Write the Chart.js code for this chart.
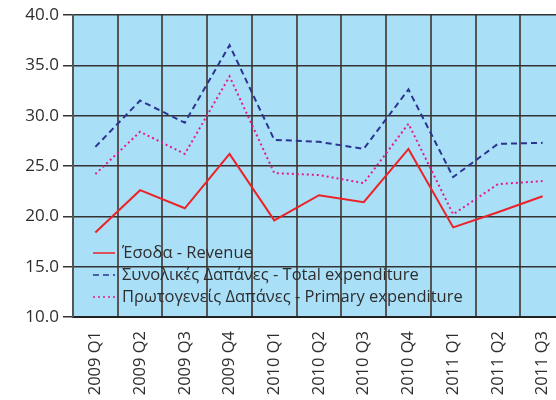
<!DOCTYPE html>
<html>
<head>
<meta charset="utf-8">
<script src="https://cdn.jsdelivr.net/npm/chart.js@4"></script>
<style>
  html, body { margin: 0; padding: 0; background: #fff; overflow: hidden; }
  #wrap { width: 600px; height: 400px; }
</style>
</head>
<body>
<div id="wrap"><canvas id="chart" width="600" height="400"></canvas></div>
<script>
// Τρίμηνα
const quarters = ['2009 Q1', '2009 Q2', '2009 Q3', '2009 Q4', '2010 Q1', '2010 Q2',
  '2010 Q3', '2010 Q4', '2011 Q1', '2011 Q2', '2011 Q3'];

// Έσοδα
const revenue = [18.4, 22.6, 20.8, 26.2, 19.6, 22.1, 21.4, 26.7, 18.9, 20.4, 22.0];
// Συνολικές δαπάνες
const totalExpenditure = [26.9, 31.5, 29.3, 37.0, 27.6, 27.4, 26.7, 32.6, 23.9, 27.2, 27.3];
// Πρωτογενείς δαπάνες
const primaryExpenditure = [24.2, 28.4, 26.2, 33.9, 24.3, 24.1, 23.3, 29.2, 20.2, 23.2, 23.5];

const seriesNames = ['Έσοδα - Revenue', 'Συνολικές Δαπάνες - Total expenditure',
  'Πρωτογενείς Δαπάνες - Primary expenditure'];

const FONT = '"Open Sans", sans-serif';

// legend drawn inside the plot, bottom left
const innerLegend = {
  id: 'innerLegend',
  afterDatasetsDraw(chart) {
    const ctx = chart.ctx;
    const area = chart.chartArea;
    const rows = [-64, -42, -20];
    ctx.save();
    chart.data.datasets.forEach((ds, i) => {
      const y = area.bottom + rows[i];
      const x = area.left + 20;
      ctx.strokeStyle = ds.borderColor;
      ctx.lineWidth = 1.5;
      ctx.setLineDash(ds.borderDash || []);
      ctx.beginPath();
      ctx.moveTo(x, y);
      ctx.lineTo(x + 22, y);
      ctx.stroke();
      ctx.setLineDash([]);
      ctx.fillStyle = '#2e2e2e';
      ctx.font = '16.5px ' + FONT;
      ctx.textBaseline = 'middle';
      ctx.fillText(ds.label, x + 29, y);
    });
    ctx.restore();
  }
};

// light blue plot background
const plotBg = {
  id: 'plotBg',
  beforeDraw(chart) {
    const a = chart.chartArea;
    chart.ctx.save();
    chart.ctx.fillStyle = '#aadff8';
    chart.ctx.fillRect(a.left, a.top, a.right - a.left, a.bottom - a.top);
    chart.ctx.restore();
  }
};

new Chart(document.getElementById('chart'), {
  type: 'line',
  data: {
    labels: quarters,
    datasets: [
      { label: seriesNames[0], data: revenue, borderColor: '#ec2227', borderWidth: 2,
        pointRadius: 0, tension: 0 },
      { label: seriesNames[1], data: totalExpenditure, borderColor: '#2b3590', borderWidth: 2,
        borderDash: [6, 4], pointRadius: 0, tension: 0 },
      { label: seriesNames[2], data: primaryExpenditure, borderColor: '#e4198f', borderWidth: 2,
        borderDash: [2, 3], pointRadius: 0, tension: 0 }
    ]
  },
  options: {
    responsive: false,
    animation: false,
    layout: { padding: { top: 15, right: 35, left: 0, bottom: 0 } },
    plugins: { legend: { display: false }, tooltip: { enabled: false } },
    scales: {
      x: {
        offset: true,
        grid: { offset: true, color: '#555', lineWidth: 2, drawTicks: false },
        border: { color: '#222', width: 2 },
        ticks: { color: '#2e2e2e', font: { family: FONT, size: 16.5 }, minRotation: 90, maxRotation: 90, padding: 14 },
        afterFit(scale) { scale.height = 83; }
      },
      y: {
        min: 10,
        max: 40,
        grid: { color: '#333', lineWidth: 1.5, tickLength: 10 },
        border: { color: '#555', width: 2 },
        ticks: {
          stepSize: 5,
          color: '#2e2e2e',
          font: { family: FONT, size: 17 },
          padding: 4,
          callback: v => v.toFixed(1)
        },
        afterFit(scale) { scale.width = 73; }
      }
    }
  },
  plugins: [plotBg, innerLegend]
});
</script>
</body>
</html>
